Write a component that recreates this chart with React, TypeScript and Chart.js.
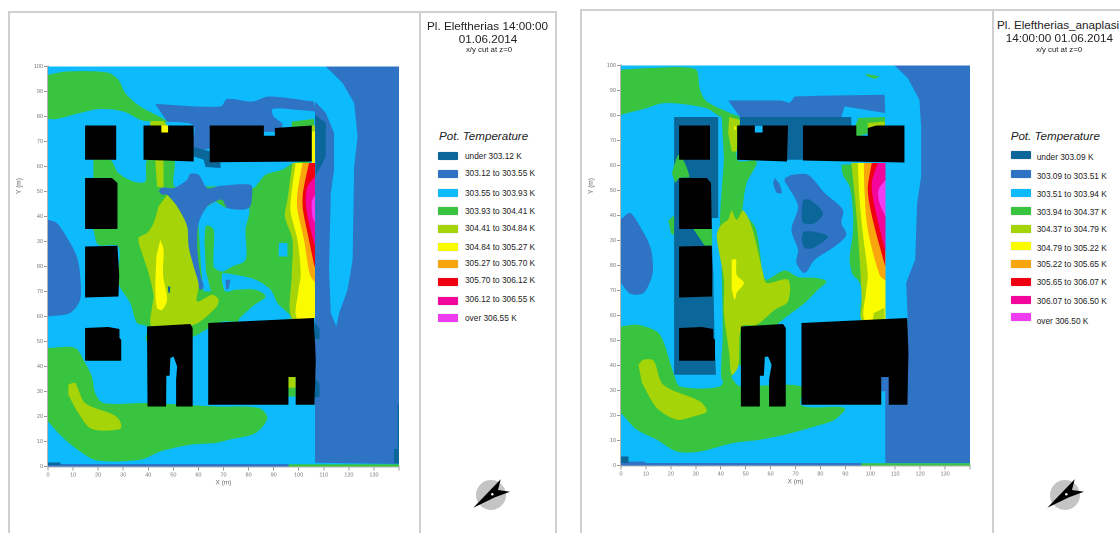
import React, { useEffect, useRef } from "react";
import { Chart, registerables } from "chart.js";

Chart.register(...registerables);

type Pt = [number, number];
type Layer = [number, Pt[]];

const classColors = ["#0b6699", "#2f73c4", "#0dbbfc", "#38c43f", "#a5d408", "#fbfb00", "#f9a50e", "#f00010", "#f2069c", "#f03cf0", "#000000"];

const leftClassLabels = ["under 303.12 K", "303.12 to 303.55 K", "303.55 to 303.93 K", "303.93 to 304.41 K", "304.41 to 304.84 K", "304.84 to 305.27 K", "305.27 to 305.70 K", "305.70 to 306.12 K", "306.12 to 306.55 K", "over 306.55 K"];
const rightClassLabels = ["under 303.09 K", "303.09 to 303.51 K", "303.51 to 303.94 K", "303.94 to 304.37 K", "304.37 to 304.79 K", "304.79 to 305.22 K", "305.22 to 305.65 K", "305.65 to 306.07 K", "306.07 to 306.50 K", "over 306.50 K"];

const yTickLabels = ["0", "10", "20", "30", "40", "50", "60", "70", "80", "30", "40", "50", "60", "70", "80", "90", "100"];
const xTickLabels = ["0", "10", "20", "30", "40", "50", "60", "70", "80", "90", "100", "110", "120", "130", ""];

const domain: Pt[] = [[0, 0], [141, 0], [141, 160], [0, 160]];

/* ---------- left map ---------- */
const lRightBlue: Pt[] = [[110.8, 160], [141, 160], [141, 1], [106.5, 1.5], [106.5, 146], [110.8, 141.4], [114.1, 133.4], [114.1, 118.7], [112.8, 109.4], [112.1, 78.7], [112.8, 61.4], [115, 56], [116.1, 61.4], [119.5, 70.7], [121.5, 82.7], [122.1, 120], [123.5, 132], [122.1, 145.4], [117.5, 153.4]];
const lRightDark1: Pt[] = [[106.5, 140.7], [110.8, 137.4], [110.8, 124], [108.8, 120], [106.8, 116.7], [106.5, 116.7]];
const lRightDark2: Pt[] = [[106.5, 57.4], [108.3, 55], [108.3, 51], [106.5, 51]];
const lRightDark3: Pt[] = [[106.5, 35.4], [108.3, 33], [108.3, 28], [106.5, 27.4]];
const lEdgeDark: Pt[] = [[139.5, 25], [141, 25], [141, 1], [138, 1.5], [138, 7], [139.5, 7]];
const lWestBlue: Pt[] = [[0, 98.7], [3.5, 97.4], [8.1, 90.7], [11.5, 84], [12.8, 76.7], [12.8, 66.7], [8.8, 61.4], [0, 60]];
const lTopGreen: Pt[] = [[0, 156.7], [7.5, 158], [23.5, 157.6], [28.1, 154.7], [30.8, 149.4], [36.8, 144], [47.5, 138], [40.8, 138], [36.8, 138.7], [30.1, 142], [20.8, 143], [12.8, 141.4], [3.5, 139], [0, 139]];
const lTopBlue: Pt[] = [[42.8, 145], [68.8, 144], [71.5, 147], [81.5, 146], [88.1, 148], [106, 146], [106.8, 142], [98.8, 142.7], [89.5, 143], [90, 140], [93.5, 137], [92, 134], [70, 134], [64.8, 127.4], [58.1, 127.4], [58.1, 136.4], [47.5, 138]];
const lGapDark: Pt[] = [[58.1, 127.8], [64.8, 126], [68.8, 124], [68.8, 119.4], [62.8, 119.8], [62.1, 122.7], [58.1, 124]];
const lBigGreen: Pt[] = [[18.1, 122.7], [24.8, 122.7], [28.1, 117.4], [34.1, 114], [38.8, 114], [39.7, 122.7], [50.1, 122.7], [50.4, 112], [60, 112], [80, 112], [82.1, 111.4], [86.8, 116.7], [93.5, 118.7], [98.1, 121.4], [105, 121], [106, 100], [106, 78], [96.8, 59], [70, 58], [67.5, 57.4], [58.1, 52], [50, 50], [39.5, 50], [39.5, 56], [35.5, 57.4], [32.8, 65.4], [28.1, 73.4], [28.1, 88], [20.1, 88.7], [18.1, 94.7]];
const lCoolPatch: Pt[] = [[66.8, 106], [71.5, 103.4], [80.1, 103.4], [78.8, 94.7], [78.8, 82.7], [73.5, 80], [69.5, 78], [66.1, 80], [66.1, 94.7], [62.8, 96.7], [59.5, 97.4], [63.5, 104]];
const lCoolDot: Pt[] = [[92.1, 89.4], [95.5, 89.4], [95.5, 84], [92, 84]];
const lCoolArc: Pt[] = [[69.5, 77.4], [74.8, 76.7], [82.8, 74.7], [88.8, 70.7], [91.5, 65.4], [96.8, 59.4], [76.1, 58], [81.5, 64], [86.8, 68], [82.8, 70.7], [74.8, 70.7], [70.8, 70], [69.2, 74.7]];
const lCoolStrip: Pt[] = [[60, 97], [63, 97], [65.5, 80], [65.5, 70], [62, 70], [61, 80]];
const lGreenStripe: Pt[] = [[62.8, 96], [65.9, 92], [66, 78], [66, 70], [65, 70], [63, 78], [62.4, 90]];
const lMidBlue: Pt[] = [[44.1, 110], [45.5, 111.6], [50.1, 111.4], [55.5, 114.7], [56.8, 117.1], [60.1, 116.7], [63.5, 111.4], [68.8, 112.3], [80.8, 112.7], [81.5, 110], [80.1, 103.4], [71.5, 103.4], [69.5, 106.7], [66.8, 106], [63.5, 104], [60.1, 97.4], [59.5, 88], [60.8, 76.7], [62.1, 72], [60.8, 70.7], [58.1, 76], [55.5, 88], [55.5, 96], [51.5, 104], [47.5, 108.7], [45.5, 108.7]];
const lMidSpot: Pt[] = [[70.8, 74.7], [72.8, 74.7], [72, 71], [71, 71]];
const lWarmCore: Pt[] = [[47.5, 108.7], [51.5, 104], [55.5, 96], [56.1, 88], [58.1, 80], [60.1, 72.7], [59.5, 66], [65.5, 68.7], [68.1, 66.7], [66.8, 63.4], [58.1, 56.7], [41.5, 56], [41.5, 64], [42.1, 68], [40.1, 77.4], [37.5, 85.4], [36.1, 91.4], [39.5, 93.4], [42.1, 97.4], [44.1, 104]];
const lWarmStrip: Pt[] = [[42.8, 122.5], [46.1, 122.5], [46.1, 111.5], [43.5, 112]];
const lHotCore: Pt[] = [[44.8, 90.7], [46.1, 86.7], [45.9, 76.7], [47.5, 66.7], [45.5, 62.7], [43.5, 63.4], [42.8, 70.7], [43.2, 84]];
const lCoreSpot: Pt[] = [[47.8, 72], [48.8, 72], [48.6, 69.5], [48, 69.5]];
const lBand1: Pt[] = [[97.5, 121.4], [95.5, 106.7], [94.5, 100], [97.5, 90.7], [97.2, 76.7], [97.2, 59.4], [106.5, 59.4], [106.5, 121.4]];
const lBand2: Pt[] = [[98.8, 121.4], [96.8, 106.7], [96.8, 101.4], [99.5, 90.7], [100.8, 76.7], [99.9, 70.7], [99.2, 59.4], [106.5, 59.4], [106.5, 121.4]];
const lBand3: Pt[] = [[101.5, 121.4], [99.5, 109.4], [99.5, 102.7], [102.1, 90.7], [104.5, 76.7], [106.5, 73.6], [106.5, 121.4]];
const lBand4: Pt[] = [[104.1, 121.4], [101.7, 109.4], [101.7, 102.7], [104.1, 90.7], [106.3, 80], [106.5, 80], [106.5, 121.4]];
const lBand5: Pt[] = [[106.5, 116], [103.5, 112], [102.8, 105.4], [104.1, 97.4], [106.5, 88]];
const lBand6: Pt[] = [[106.5, 108.7], [105.2, 106], [105.5, 100], [106.5, 97.4]];
const lCornerGreen: Pt[] = [[97.2, 138], [106.1, 139], [106.1, 135], [97.2, 135]];
const lCornerWarm: Pt[] = [[105.2, 136.4], [106.5, 136.4], [106.5, 134], [105.2, 134]];
const lCornerHot: Pt[] = [[105.2, 134], [106.5, 134], [106.5, 121.4], [105.2, 121.4]];
const lSouthGreen: Pt[] = [[0, 47.4], [10.8, 47.4], [14.8, 41.4], [17.5, 36], [18.8, 29.4], [22.1, 25.4], [39.5, 25.4], [66.8, 24], [84.1, 23.4], [87.5, 19.4], [82.8, 13.4], [72.1, 10.7], [66.8, 9.4], [56.8, 8.7], [44.8, 6], [36.8, 2.7], [19.5, 2.4], [12.8, 6], [5.5, 12], [0, 18]];
const lSouthWarm: Pt[] = [[8.1, 32.7], [10.8, 33.4], [14.8, 25.4], [26.1, 20.7], [28.8, 18], [28.8, 15], [17.5, 15], [12.1, 21.4], [8.1, 28.7]];
const lBaseBlue: Pt[] = [[0, 0], [96, 0], [96, 1], [0, 1]];
const lBaseGreen: Pt[] = [[96, 0], [141, 0], [141, 0.9], [96, 0.9]];
const lBaseDark: Pt[] = [[0, 0.6], [5, 0.6], [5, 1.6], [0, 1.6]];
const lNotchGreen: Pt[] = [[95.9, 28], [98.8, 28], [98.8, 33], [95.9, 33]];
const lNotchWarm: Pt[] = [[95.9, 31.5], [98.8, 31.5], [98.8, 35.8], [95.9, 35.8]];
const lB1: Pt[] = [[14.8, 136.4], [27.2, 136.4], [27.2, 122.7], [14.8, 122.7]];
const lB2: Pt[] = [[38.1, 136.4], [58.1, 136.4], [58.1, 122], [38.1, 122.7]];
const lB3: Pt[] = [[64.5, 136.4], [86.1, 136.4], [86.1, 132.3], [90.5, 132.3], [90.5, 135.4], [105.2, 136.4], [105.2, 122], [64.5, 121.7]];
const lB4: Pt[] = [[14.8, 115.4], [25.5, 115.4], [27.7, 113.4], [27.7, 95], [14.8, 95]];
const lB5: Pt[] = [[14.8, 88], [27.7, 88.3], [28.4, 76.7], [28.1, 68], [14.8, 67.6]];
const lB6: Pt[] = [[14.8, 55.4], [24.1, 55.8], [28.5, 55], [28.5, 51.4], [29.2, 50.7], [29.2, 42.3], [14.8, 42.3]];
const lB7: Pt[] = [[39.5, 56], [56.8, 57], [57.7, 55.4], [57.7, 24], [51.1, 24], [51.1, 34.7], [51.5, 40], [50.1, 44], [48.8, 43.4], [48.5, 36.3], [47.2, 36.3], [47.1, 24], [39.7, 24]];
const lB8: Pt[] = [[63.9, 57.4], [106.1, 59.4], [106.8, 42.7], [106.3, 24.7], [98.8, 24.7], [98.8, 35.8], [95.9, 35.8], [95.9, 24.7], [63.9, 24.7]];
const lRoofHot: Pt[] = [[45.2, 136.4], [47.9, 136.4], [47.9, 133.6], [45.2, 133.6]];
const lRoofWarm: Pt[] = [[40.8, 138.2], [46.1, 138.2], [47.5, 136.4], [40.8, 136.4]];

const leftLayers: Layer[] = [
  [2, domain], [1, lRightBlue], [0, lRightDark1], [0, lRightDark2], [0, lRightDark3], [0, lEdgeDark], [1, lWestBlue],
  [3, lTopGreen], [1, lTopBlue], [0, lGapDark], [3, lBigGreen], [2, lCoolPatch], [2, lCoolStrip], [3, lGreenStripe], [2, lCoolDot], [2, lCoolArc],
  [1, lMidBlue], [1, lMidSpot], [4, lWarmCore], [4, lWarmStrip], [5, lHotCore], [0, lCoreSpot],
  [4, lBand1], [5, lBand2], [6, lBand3], [7, lBand4], [8, lBand5], [9, lBand6], [3, lCornerGreen], [4, lCornerWarm], [5, lCornerHot],
  [3, lSouthGreen], [4, lSouthWarm], [1, lBaseBlue], [3, lBaseGreen], [0, lBaseDark], [3, lNotchGreen], [4, lNotchWarm],
  [10, lB1], [10, lB2], [10, lB3], [10, lB4], [10, lB5], [10, lB6], [10, lB7], [10, lB8], [5, lRoofHot], [4, lRoofWarm],
];

/* ---------- right map ---------- */
const rRightBlue: Pt[] = [[109.7, 160], [141, 160], [141, 1], [106, 1], [106, 36], [115, 36], [115, 59], [114.4, 73], [116.4, 78.3], [118, 82.3], [118.8, 105], [120.4, 115.6], [120.4, 135.6], [119.7, 146.3], [115, 155]];
const rWestBlue: Pt[] = [[0, 98.6], [3.7, 101], [8.4, 94.3], [11.7, 87.6], [12.8, 81], [12.4, 75.6], [9, 69], [3.7, 68.7], [0, 73]];
const rCornerBlue: Pt[] = [[0, 3.6], [3, 3.6], [3, 1.6], [9.7, 1.6], [9.7, 0], [0, 0]];
const rCornerDark: Pt[] = [[0, 3.6], [3, 3.6], [3, 1], [0, 1]];
const rTopGreen: Pt[] = [[0, 158.3], [11.7, 159], [29.7, 158.6], [31.7, 150.3], [34.4, 145.6], [43.7, 141], [47.4, 139.4], [40.4, 139.4], [34, 143], [17.7, 145], [9, 142.6], [0, 140.3]];
const rTopSpot: Pt[] = [[98.4, 156.7], [103.7, 155.6], [101.7, 154.6], [98.4, 155.9]];
const rTopBlue: Pt[] = [[43, 146], [64.4, 146], [67.7, 145], [69.7, 147.6], [79, 147.9], [105.7, 148.3], [106, 141], [89.7, 143.6], [88.4, 139.4], [47.7, 139.4]];
const rRoofDark: Pt[] = [[47.7, 139.4], [92.4, 139.4], [92.4, 135.6], [73, 135.6], [73, 122.3], [65.7, 122.3], [65.7, 135.6], [47.7, 136]];
const rBlockDark: Pt[] = [[21.3, 139.4], [39, 139.4], [39, 99], [36.4, 99], [36.5, 88], [37, 78], [37.5, 50], [38.1, 36.3], [21.3, 36.3]];
const rWedge: Pt[] = [[20.4, 117], [23.3, 124.3], [27.4, 115.6], [23.7, 115], [21.7, 113]];
const rHint: Pt[] = [[19, 98], [21.3, 100], [21.3, 92], [20, 93]];
const rDiagonal: Pt[] = [[29, 94.6], [36.4, 94.6], [36.6, 88], [33.5, 88]];
const rColumn: Pt[] = [[40.4, 139.4], [47.4, 139.4], [46.6, 122.3], [54.4, 121.6], [50.4, 113], [49, 105], [49, 101.6], [54, 95], [57, 76.3], [58.4, 74.3], [65.7, 78], [71, 75.4], [78.4, 75], [82.4, 73.6], [79, 70.3], [73.7, 65], [65.7, 59], [58, 52], [50, 40], [47, 40], [44, 35], [40.4, 34.3], [40.8, 51.6], [40.4, 78.3], [39.7, 98.3], [41.3, 122.3]];
const rSouthGreen: Pt[] = [[0, 55.6], [6.4, 56.3], [14.4, 53.6], [17, 49.6], [21.3, 36.3], [23.7, 31.6], [39.7, 31.6], [42.4, 37], [46.6, 32.3], [48.4, 31.6], [72.4, 31.6], [72.4, 24], [89.7, 23], [85.7, 18.3], [77.7, 15.6], [68.4, 13], [65.7, 12.3], [55.7, 10.3], [45, 9], [31.7, 5.6], [22.4, 5.6], [14.4, 10.3], [6.4, 14.3], [0, 21]];
const rSouthWarm: Pt[] = [[7, 40.3], [9, 42.3], [13, 42], [17, 32.3], [31.7, 25.6], [34.4, 21.6], [29, 19.6], [22.4, 18.3], [14.4, 23], [8.4, 33]];
const rGapCool: Pt[] = [[48, 35], [72.4, 35], [72.4, 33], [48, 31.9]];
const rStripWarm: Pt[] = [[43.4, 139.4], [47.7, 138.3], [46.4, 125.6], [44.4, 125.6], [43, 133]];
const rStripHot: Pt[] = [[45.4, 135.6], [46.2, 135.6], [46.2, 134.3], [45.4, 134.3]];
const rWarmCore: Pt[] = [[44.4, 102.3], [46.4, 98.3], [49, 102], [52.4, 95.6], [57, 77], [58.4, 73], [67, 74.3], [67, 65.6], [61.7, 62.3], [54.4, 56.3], [48.4, 55.6], [47, 39.6], [44.4, 36.3], [43.4, 45], [41.3, 61], [41.3, 74.3], [38.4, 91.6], [39.7, 95.6], [43, 98.3]];
const rHotCore: Pt[] = [[44.4, 82.3], [46.1, 82.3], [46.4, 76.3], [49.3, 73], [46.4, 69], [45.7, 66.3], [44.4, 70.3]];
const rMidBlue: Pt[] = [[68.4, 116.3], [75, 116.3], [81.7, 109], [89, 102.3], [88.4, 97], [90.4, 92.3], [85.7, 87.6], [77.7, 82.3], [73.7, 77], [70.4, 81], [71, 86.3], [68.4, 94.3], [71, 103.6], [67, 111.6], [65.7, 113.6], [65.7, 115]];
const rMidSpot: Pt[] = [[61.7, 115], [63.7, 112.3], [64.4, 109], [62.4, 109.2], [61, 113]];
const rDark1: Pt[] = [[73, 106.3], [75.7, 106.3], [81, 101], [77.7, 97], [73, 97], [72.4, 101]];
const rDark2: Pt[] = [[73, 93.6], [77, 93.6], [83, 91.6], [77, 87], [73.7, 87], [72.4, 90.3]];
const rBand0: Pt[] = [[88.4, 120.3], [89, 116.3], [91.7, 111.6], [93, 102.3], [93, 93], [91.7, 82.3], [93, 76.3], [95, 74.3], [96.6, 70.3], [96.6, 58.3], [106.1, 58.3], [106.1, 121]];
const rBand1: Pt[] = [[92.4, 121], [93.9, 106.3], [95, 93], [96.1, 76.3], [96.6, 65], [96.6, 58.3], [106.1, 58.3], [106.1, 121]];
const rBand2: Pt[] = [[95, 121], [95.7, 106.3], [97, 93], [99, 76.3], [98.4, 70.3], [97.7, 58.3], [106.1, 58.3], [106.1, 121]];
const rBand3: Pt[] = [[97.4, 121], [97.7, 109], [99, 94.3], [103.7, 76.3], [106.1, 74], [106.1, 121]];
const rBand4: Pt[] = [[100.6, 121], [99, 110.3], [101, 98.3], [106, 79.6], [106.1, 121]];
const rBand5: Pt[] = [[103, 121], [100.6, 113], [101.7, 103.6], [106.1, 85.6], [106.1, 121]];
const rBand6: Pt[] = [[106.1, 114.3], [103.3, 110.3], [103.7, 105], [106.1, 99.6]];
const rInnerWarm: Pt[] = [[101.4, 61], [105.7, 63], [105.7, 58], [100.9, 58]];
const rCapGreen: Pt[] = [[95.3, 139], [105.9, 139.4], [105.9, 135], [93, 131], [94, 136]];
const rCapWarm: Pt[] = [[99, 137], [105.8, 137.6], [105.8, 135], [99, 134]];
const rNotchBlue: Pt[] = [[104.4, 35.4], [107.4, 35.4], [107.4, 29.7], [104.4, 29.7]];
const rBaseBlue: Pt[] = [[0, 0], [96.4, 0], [96.4, 1], [0, 1]];
const rBaseGreen: Pt[] = [[96.4, 0], [141, 0], [141, 0.9], [96.4, 0.9]];
const rB1: Pt[] = [[23.3, 136], [35.7, 136], [35.7, 122.3], [23.3, 122.3]];
const rB2: Pt[] = [[46.6, 136], [53.7, 136], [53.7, 133.2], [56.8, 133.2], [56.8, 136], [67, 136], [66.6, 121.6], [46.6, 122.3]];
const rB3: Pt[] = [[73, 136], [94.4, 136], [94.4, 131.9], [99, 131.9], [99, 135], [102.4, 136], [113.7, 136], [113.7, 121.2], [92.4, 121.6], [73, 122]];
const rB4: Pt[] = [[23.3, 115], [34.4, 115], [36.1, 113], [36.4, 94.6], [23.3, 94.6]];
const rB5: Pt[] = [[23.3, 87.6], [36.4, 87.9], [36.6, 76.3], [36.5, 67.6], [23.3, 67.2]];
const rB6: Pt[] = [[23.3, 55], [32.4, 55.4], [37, 54.6], [37, 51], [37.7, 50.3], [37.7, 41.9], [23.3, 41.9]];
const rB7: Pt[] = [[48.1, 55.6], [65, 56.6], [66.1, 55], [66.1, 23.6], [59.4, 23.6], [59.4, 34.3], [60.4, 40.3], [59, 43.6], [57.7, 43.4], [57.3, 35.9], [55.7, 35.9], [55.7, 23.6], [48.1, 23.6]];
const rB8: Pt[] = [[72.4, 57], [114.8, 59], [115.3, 45], [114.9, 24.3], [107.4, 24.3], [107.4, 35.4], [104.4, 35.4], [104.4, 24.3], [72.4, 24.3]];

const rightLayers: Layer[] = [
  [2, domain], [1, rRightBlue], [1, rWestBlue], [1, rCornerBlue], [0, rCornerDark],
  [3, rTopGreen], [3, rTopSpot], [1, rTopBlue], [0, rRoofDark], [0, rBlockDark], [3, rWedge], [3, rHint], [3, rDiagonal],
  [3, rColumn], [3, rSouthGreen], [4, rSouthWarm], [2, rGapCool], [4, rStripWarm], [5, rStripHot], [4, rWarmCore], [5, rHotCore],
  [1, rMidBlue], [1, rMidSpot], [0, rDark1], [0, rDark2],
  [3, rBand0], [4, rBand1], [5, rBand2], [6, rBand3], [7, rBand4], [8, rBand5], [9, rBand6], [4, rInnerWarm], [3, rCapGreen], [4, rCapWarm],
  [1, rNotchBlue], [1, rBaseBlue], [3, rBaseGreen],
  [10, rB1], [10, rB2], [10, rB3], [10, rB4], [10, rB5], [10, rB6], [10, rB7], [10, rB8],
];

/* organic contours get a curved outline; points on the wall edge stay as corners */
const curvedLayers = new Set<Pt[]>([
  lWestBlue, lTopGreen, lTopBlue, lBigGreen, lCoolPatch, lCoolArc, lMidBlue, lWarmCore, lHotCore, lSouthGreen, lSouthWarm,
  lBand1, lBand2, lBand3, lBand4, lBand5, lBand6,
  rWestBlue, rTopGreen, rMidBlue, rMidSpot, rDark1, rDark2, rColumn, rSouthGreen, rSouthWarm, rWarmCore, rHotCore, rWedge,
  rBand0, rBand1, rBand2, rBand3, rBand4, rBand5, rBand6,
]);
const wallX = 106;

const leftRows = [156, 172.7, 192.7, 211, 228.3, 246.7, 263.3, 280, 299.3, 318.3];
const leftSwatches = [156, 174, 193.3, 211, 229.3, 246.7, 264.3, 282.3, 300.7, 318.3];
const rightRows = [157.3, 175.7, 194.3, 212.3, 229.3, 248.3, 264.3, 281.7, 300.7, 320.7];
const rightSwatches = [155, 174, 192.7, 210.7, 229.3, 246, 264, 281.7, 300, 317.3];

const FONT = '"Liberation Sans", Arial, sans-serif';

function outline(pts: Pt[]) {
  const curved = curvedLayers.has(pts);
  const out: { x: number; y: number }[] = [];
  for (const [x, y] of pts) {
    out.push({ x, y });
    if (curved && x >= wallX) out.push({ x, y });
  }
  return out;
}

function MapChart({ layers, left, top, plotW }: { layers: Layer[]; left: number; top: number; plotW: number }) {
  const ref = useRef<HTMLCanvasElement>(null);
  useEffect(() => {
    const canvasW = 48 + plotW + 20;
    const chart = new Chart(ref.current!, {
      type: "scatter",
      data: {
        datasets: layers
          .map(([cls, pts]) => ({
            label: cls < 10 ? `class ${cls}` : "building",
            data: outline(pts),
            showLine: true,
            fill: "shape",
            tension: curvedLayers.has(pts) ? 0.3 : 0,
            borderWidth: 0,
            pointRadius: 0,
            pointHoverRadius: 0,
            backgroundColor: classColors[cls],
          }))
          .reverse(),
      },
      options: {
        animation: false,
        responsive: false,
        devicePixelRatio: 2,
        events: [],
        layout: { padding: { left: 0, top: 66.5, right: canvasW - 48 - plotW, bottom: 13.5 } },
        plugins: { legend: { display: false }, tooltip: { enabled: false }, title: { display: false } },
        scales: {
          x: {
            type: "linear",
            min: 0,
            max: 140,
            afterFit: (s: any) => { s.height = 20; },
            afterBuildTicks: (s: any) => { s.ticks = xTickLabels.map((_, i) => ({ value: i * 10 })); },
            grid: { drawOnChartArea: false, drawTicks: true, tickLength: 4, color: "#999", tickColor: "#999" },
            border: { display: true, color: "#b5b5b5", width: 2, dash: [1, 1] },
            ticks: {
              maxRotation: 0,
              autoSkip: false,
              padding: 1,
              color: "#777",
              font: { size: 5.5, family: "Liberation Sans" },
              callback: (v: any) => xTickLabels[Math.round(Number(v) / 10)] ?? "",
            },
            title: { display: true, text: "X (m)", color: "#666", padding: { top: -2, bottom: 0 }, font: { size: 6.5, family: "Liberation Sans" } },
          },
          y: {
            type: "linear",
            min: 0,
            max: 160,
            afterFit: (s: any) => { s.width = 48; },
            afterBuildTicks: (s: any) => { s.ticks = yTickLabels.map((_, i) => ({ value: i * 10 })); },
            grid: { drawOnChartArea: false, drawTicks: true, tickLength: 4, color: "#999", tickColor: "#999" },
            border: { display: true, color: "#b5b5b5", width: 2, dash: [1, 1] },
            ticks: {
              autoSkip: false,
              padding: 1,
              color: "#777",
              font: { size: 5.5, family: "Liberation Sans" },
              callback: (v: any) => yTickLabels[Math.round(Number(v) / 10)] ?? "",
            },
          },
        },
      },
    } as any);
    return () => chart.destroy();
  }, [layers, plotW]);
  const w = 48 + plotW + 20;
  return <canvas ref={ref} width={w} height={500} style={{ position: "absolute", left, top, width: w, height: 500 }} />;
}

const abs = (s: React.CSSProperties): React.CSSProperties => ({ position: "absolute", ...s });

function Compass({ dx, dy }: { dx: number; dy: number }) {
  return (
    <svg width={60} height={50} style={{ position: "absolute", left: 465 + dx, top: 470 + dy }}>
      <circle cx={26} cy={25} r={15} fill="#c4c4c4" />
      <polygon points="35.7,9.3 33,20 45,21.7 30,27.3 8.3,37.7" fill="#000" />
      <circle cx={27.3} cy={24.3} r={1.2} fill="#fff" />
    </svg>
  );
}

function Line({ x, y, w, h }: { x: number; y: number; w: number; h: number }) {
  return <div style={abs({ left: x, top: y, width: w, height: h, background: "#cfcfcf" })} />;
}

function Legend({ labels, rows, swatches, swatchX, textX, titleX }: { labels: string[]; rows: number[]; swatches: number[]; swatchX: number; textX: number; titleX: number }) {
  return (
    <>
      <div style={abs({ left: titleX, top: 128, fontFamily: FONT, fontStyle: "italic", fontSize: 11.6, lineHeight: "16px", color: "#222", whiteSpace: "nowrap" })}>Pot. Temperature</div>
      {labels.map((t, i) => (
        <React.Fragment key={t}>
          <div style={abs({ left: swatchX, top: swatches[i] - 4, width: 20, height: 8, background: classColors[i], borderRadius: 1, boxShadow: "0 0 1px #888" })} />
          <div style={abs({ left: textX, top: rows[i] - 6, fontFamily: FONT, fontSize: 8.3, lineHeight: "12px", color: "#222", whiteSpace: "nowrap" })}>{t}</div>
        </React.Fragment>
      ))}
    </>
  );
}

function Centered({ cx, y, size, text }: { cx: number; y: number; size: number; text: string }) {
  return <div style={abs({ left: cx - 100, width: 200, top: y - 8, textAlign: "center", fontFamily: FONT, fontSize: size, lineHeight: "16px", color: "#222", whiteSpace: "nowrap" })}>{text}</div>;
}

function YTitle({ x }: { x: number }) {
  return <div style={abs({ left: x - 20, top: 180, width: 40, textAlign: "center", transform: "rotate(-90deg)", fontFamily: FONT, fontSize: 6.5, lineHeight: "12px", color: "#666" })}>Y (m)</div>;
}

export default function App() {
  return (
    <div style={{ position: "fixed", left: 0, top: 0, width: 1120, height: 533, overflow: "hidden", background: "#fff", filter: "blur(0.4px)" }}>
      <Line x={8} y={11} w={548} h={2} />
      <Line x={8} y={11} w={2} h={522} />
      <Line x={419} y={11} w={2} h={522} />
      <Line x={555} y={11} w={2} h={522} />
      <Line x={580} y={9} w={540} h={2} />
      <Line x={580} y={9} w={2} h={524} />
      <Line x={992} y={9} w={2} h={524} />

      <MapChart layers={leftLayers} left={0} top={0} plotW={351} />
      <MapChart layers={rightLayers} left={573} top={-1} plotW={349} />
      <YTitle x={19} />
      <YTitle x={591} />

      <Centered cx={487.5} y={26} size={11.7} text="Pl. Eleftherias 14:00:00" />
      <Centered cx={488} y={38.7} size={11.7} text="01.06.2014" />
      <Centered cx={489} y={50} size={7.8} text="x/y cut at z=0" />
      <Legend labels={leftClassLabels} rows={leftRows} swatches={leftSwatches} swatchX={438} textX={465} titleX={439} />
      <Compass dx={0} dy={0} />

      <div style={abs({ left: 997, top: 17, fontFamily: FONT, fontSize: 11.7, lineHeight: "16px", color: "#222", whiteSpace: "nowrap" })}>Pl. Eleftherias_anaplasi</div>
      <Centered cx={1059.3} y={38.3} size={11.7} text="14:00:00 01.06.2014" />
      <Centered cx={1059} y={50} size={7.8} text="x/y cut at z=0" />
      <Legend labels={rightClassLabels} rows={rightRows} swatches={rightSwatches} swatchX={1011} textX={1036.7} titleX={1010.7} />
      <Compass dx={574} dy={0} />
    </div>
  );
}
